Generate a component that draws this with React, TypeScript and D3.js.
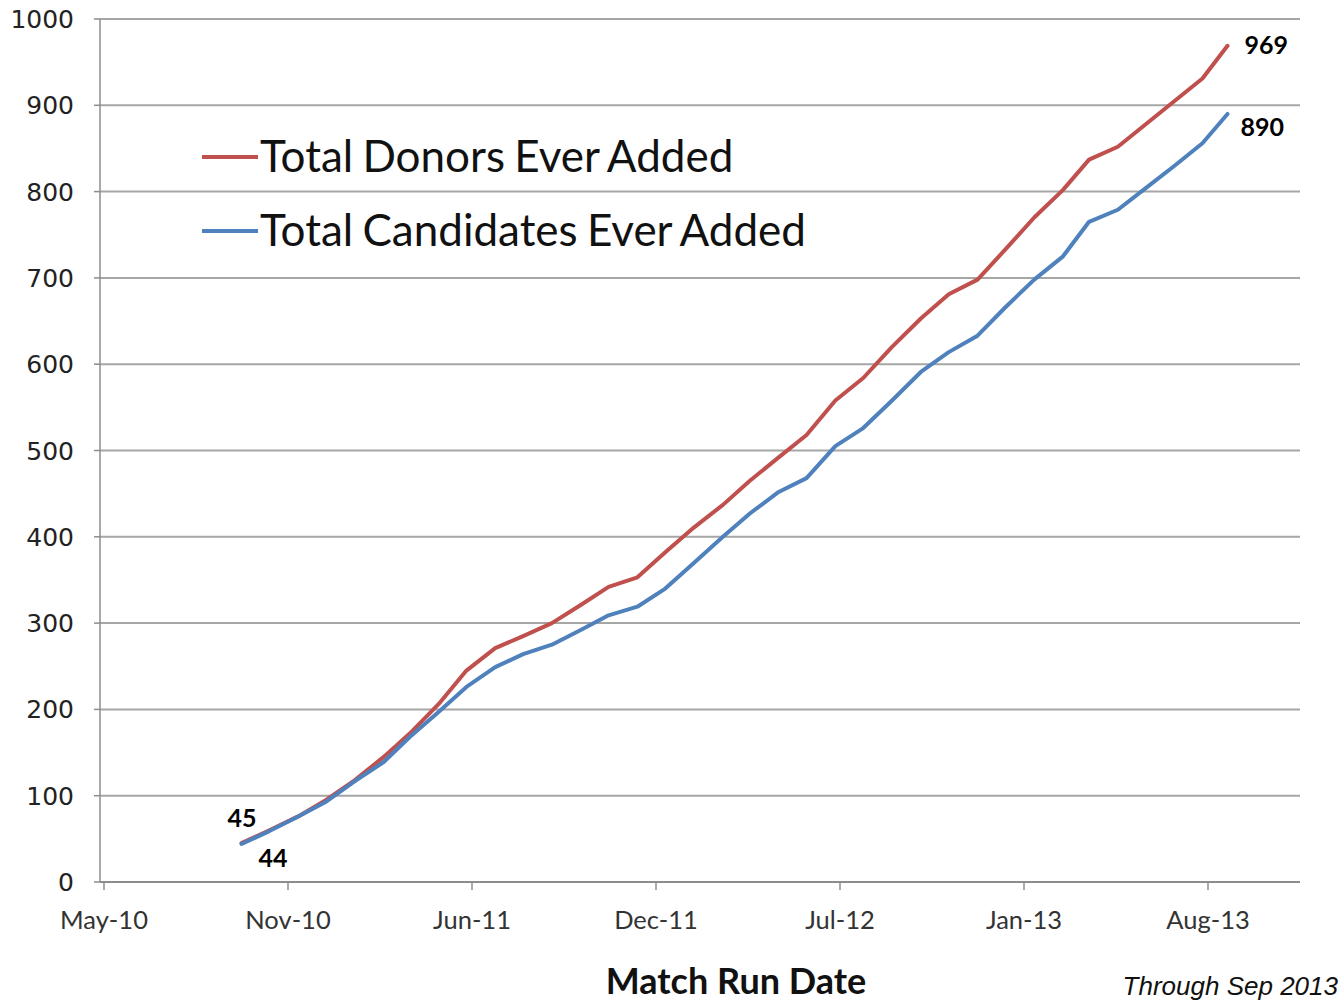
import React from 'react';
import * as d3 from 'd3';

// match run dates (roughly monthly)
const runDates = [
    '2010-09-26', '2010-10-26', '2010-11-26', '2010-12-26',
    '2011-01-26', '2011-02-26', '2011-03-26', '2011-04-26', '2011-05-26', '2011-06-26',
    '2011-07-26', '2011-08-26', '2011-09-26', '2011-10-26', '2011-11-26', '2011-12-26',
    '2012-01-26', '2012-02-26', '2012-03-26', '2012-04-26', '2012-05-26', '2012-06-26',
    '2012-07-26', '2012-08-26', '2012-09-26', '2012-10-26', '2012-11-26', '2012-12-26',
    '2013-01-26', '2013-02-26', '2013-03-26', '2013-04-26', '2013-05-26', '2013-06-26',
    '2013-07-26', '2013-08-22'
];

const donors = [
    45, 60, 76, 95, 118, 145, 172, 206, 245, 271,
    285, 300, 321, 342, 353, 382, 411, 437, 465, 492,
    518, 558, 584, 620, 653, 681, 698, 733, 770, 802,
    837, 852, 878, 905, 931, 969
];

const candidates = [
    44, 59, 76, 93, 117, 139, 168, 197, 226, 249,
    264, 275, 292, 309, 319, 340, 370, 400, 427, 452,
    468, 505, 526, 558, 591, 614, 633, 666, 698, 725,
    765, 779, 804, 830, 856, 890
];

const yTicks = [0, 100, 200, 300, 400, 500, 600, 700, 800, 900, 1000];
const seriesNames = ['Total Donors Ever Added', 'Total Candidates Ever Added'];
const seriesColors = ['#C0504D', '#4F81BD'];

const W = 1343, H = 1001;
const plot = { left: 104, right: 1300, top: 19, bottom: 882 };

const parse = d3.timeParse('%Y-%m-%d');
const axisStart = parse('2010-05-01');
// excel-like date axis: one major unit = 198 days
const majorUnit = 198;
const axisEnd = d3.timeDay.offset(axisStart, Math.round((plot.right - plot.left) / 184 * majorUnit));
const xTickDates = d3.range(7).map(i => d3.timeDay.offset(axisStart, i * majorUnit));

const x = d3.scaleTime().domain([axisStart, axisEnd]).range([plot.left, plot.right]);
const y = d3.scaleLinear().domain([0, 1000]).range([plot.bottom, plot.top]);
const fmt = d3.timeFormat('%b-%y');

const calibri = 'Lato, "Open Sans", sans-serif';

export default function App() {
    const dates = runDates.map(parse);
    const line = d3.line<number>()
        .x((d, i) => x(dates[i]))
        .y(d => y(d));
    const series = [donors, candidates];
    const last = dates.length - 1;

    return (
        <svg width={W} height={H} style={{ position: 'absolute', left: 0, top: 0, background: '#fff' }}>
            {/* gridlines */}
            {yTicks.map(t => (
                <g key={t}>
                    {t > 0 && <line x1={plot.left - 4} x2={plot.right} y1={y(t)} y2={y(t)} stroke="#A6A6A6" strokeWidth={2} />}
                    <line x1={94} x2={plot.left - 4} y1={y(t)} y2={y(t)} stroke="#8C8C8C" strokeWidth={1.5} />
                    <text x={74} y={y(t)} dy="0.36em" textAnchor="end"
                        style={{ fontFamily: '"DejaVu Sans", Verdana, sans-serif', fontSize: 25, fill: '#222' }}>{t}</text>
                </g>
            ))}
            {/* axes */}
            <line x1={plot.left - 4} x2={plot.left - 4} y1={plot.top} y2={plot.bottom} stroke="#8C8C8C" strokeWidth={1.5} />
            <line x1={plot.left - 4} x2={plot.right} y1={plot.bottom} y2={plot.bottom} stroke="#8C8C8C" strokeWidth={2} />
            {xTickDates.map((d, i) => (
                <g key={i}>
                    <line x1={x(d)} x2={x(d)} y1={plot.bottom} y2={plot.bottom + 8} stroke="#8C8C8C" strokeWidth={1.5} />
                    <text x={x(d)} y={929} textAnchor="middle"
                        style={{ fontFamily: calibri, fontSize: 25.5, fill: '#333' }}>{fmt(d)}</text>
                </g>
            ))}

            {/* lines */}
            {series.map((s, k) => (
                <path key={k} d={line(s) || ''} fill="none" stroke={seriesColors[k]}
                    strokeWidth={4} strokeLinejoin="round" strokeLinecap="round" />
            ))}

            {/* end labels */}
            <text x={x(dates[last]) + 17} y={y(donors[last]) + 8} style={{ fontFamily: calibri, fontWeight: 700, fontSize: 25 }}>{donors[last]}</text>
            <text x={x(dates[last]) + 13} y={y(candidates[last]) + 22} style={{ fontFamily: calibri, fontWeight: 700, fontSize: 25 }}>{candidates[last]}</text>
            <text x={x(dates[0]) - 14} y={y(donors[0]) - 16} style={{ fontFamily: calibri, fontWeight: 700, fontSize: 25 }}>{donors[0]}</text>
            <text x={x(dates[0]) + 17} y={y(candidates[0]) + 23} style={{ fontFamily: calibri, fontWeight: 700, fontSize: 25 }}>{candidates[0]}</text>

            {/* legend */}
            {seriesNames.map((n, k) => (
                <g key={n} transform={`translate(202, ${157 + k * 74})`}>
                    <line x1={0} x2={56} y1={0} y2={0} stroke={seriesColors[k]} strokeWidth={4} />
                    <text x={58} y={15} style={{ fontFamily: calibri, fontSize: 44, fill: '#111', wordSpacing: -2 }}>{n}</text>
                </g>
            ))}

            {/* titles */}
            <text x={736} y={994} textAnchor="middle"
                style={{ fontFamily: calibri, fontWeight: 700, fontSize: 36, fill: '#111' }}>Match Run Date</text>
            <text x={1338} y={995} textAnchor="end"
                style={{ fontFamily: '"Liberation Sans", Arial, sans-serif', fontStyle: 'italic', fontSize: 26, fill: '#111' }}>Through Sep 2013</text>
        </svg>
    );
}
